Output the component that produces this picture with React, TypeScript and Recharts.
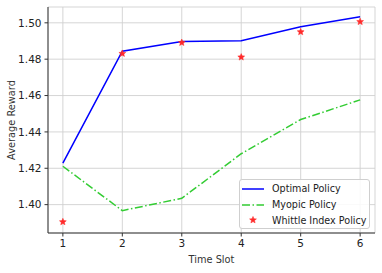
import React from 'react';
import { ComposedChart, Line, Scatter, XAxis, YAxis, CartesianGrid, Legend, Label } from 'recharts';

const timeSlots = [1, 2, 3, 4, 5, 6];
const optimalPolicy = [1.4228, 1.4844, 1.4897, 1.4901, 1.4978, 1.5033];
const myopicPolicy = [1.4211, 1.3967, 1.4035, 1.428, 1.4468, 1.4576];
const whittlePolicy = [1.3905, 1.4831, 1.4891, 1.4811, 1.495, 1.5006];
const yTicks = [1.4, 1.42, 1.44, 1.46, 1.48, 1.5];

const data = timeSlots.map((t, i) => ({
    t,
    optimal: optimalPolicy[i],
    myopic: myopicPolicy[i],
    whittle: whittlePolicy[i],
}));

const FONT = '"DejaVu Sans", sans-serif';
const BLUE = '#0000ff';
const GREEN = '#33cc33';
const RED = '#ff2a2a';

const starPoints = (cx: number, cy: number, r: number) => {
    const pts: string[] = [];
    for (let k = 0; k < 10; k++) {
        const rad = k % 2 === 0 ? r : r * 0.45;
        const a = -Math.PI / 2 + (k * Math.PI) / 5;
        pts.push(`${cx + rad * Math.cos(a)},${cy + rad * Math.sin(a)}`);
    }
    return pts.join(' ');
};

const Star = (props: any) => {
    const { cx, cy } = props;
    if (cx == null || cy == null) return null;
    return <polygon points={starPoints(cx, cy, 3.6)} fill={RED} stroke={RED} strokeWidth={0.5} />;
};

const LegendBox = () => {
    const row = (sample: React.ReactNode, text: string) => (
        <div style={{ display: 'flex', alignItems: 'center', height: 15.8 }}>
            <svg width={28} height={10} style={{ marginLeft: 2 }}>{sample}</svg>
            <span style={{ marginLeft: 2, fontSize: 9.6, color: '#222', whiteSpace: 'nowrap' }}>{text}</span>
        </div>
    );
    return (
        <div style={{
            fontFamily: FONT, border: '1px solid #cfcfcf', borderRadius: 3,
            background: 'rgba(255,255,255,0.85)', padding: '1px 0 0 0', width: 131, height: 50, boxSizing: 'border-box',
        }}>
            {row(<line x1={0} y1={5} x2={22} y2={5} stroke={BLUE} strokeWidth={1.5} />, 'Optimal Policy')}
            {row(<line x1={0} y1={5} x2={22} y2={5} stroke={GREEN} strokeWidth={1.5} strokeDasharray="8 2.5 1.5 2.5" />, 'Myopic Policy')}
            {row(<polygon points={starPoints(11, 5, 3.6)} fill={RED} stroke={RED} strokeWidth={0.5} />, 'Whittle Index Policy')}
        </div>
    );
};

export default function App() {
    return (
        <div style={{ position: 'absolute', left: 0, top: 0, width: 382, height: 273, background: '#fff', fontFamily: FONT }}>
            <ComposedChart width={382} height={273} data={data} margin={{ top: 7, right: 7, left: 0, bottom: 0 }}>
                <CartesianGrid stroke="#d0d0d0" strokeWidth={0.9} />
                <XAxis
                    dataKey="t" type="number" domain={[0.75, 6.25]} ticks={timeSlots} height={40}
                    tickSize={3.5} tickMargin={3} stroke="#333" axisLine={{ stroke: '#333' }}
                    tick={{ fill: '#222', fontSize: 10.5, fontFamily: FONT }} allowDataOverflow
                >
                    <Label value="Time Slot" position="insideBottom" offset={10} fill="#333" fontSize={9.8} fontFamily={FONT} />
                </XAxis>
                <YAxis
                    type="number" domain={[1.3844, 1.5087]} ticks={yTicks} width={48}
                    tickSize={3.5} tickMargin={3} stroke="#333" axisLine={{ stroke: '#333' }}
                    tickFormatter={(v: number) => v.toFixed(2)}
                    tick={{ fill: '#222', fontSize: 10.5, fontFamily: FONT }} allowDataOverflow
                >
                    <Label value="Average Reward" angle={-90} position="insideLeft" offset={12}
                        fill="#333" fontSize={9.8} fontFamily={FONT} style={{ textAnchor: 'middle' }} />
                </YAxis>
                <XAxis xAxisId="top" orientation="top" type="number" domain={[0.75, 6.25]} height={0}
                    tick={false} tickLine={false} axisLine={{ stroke: '#333' }} />
                <YAxis yAxisId="right" orientation="right" type="number" domain={[1.3844, 1.5087]} width={0}
                    tick={false} tickLine={false} axisLine={{ stroke: '#333' }} />
                <Line dataKey="optimal" stroke={BLUE} strokeWidth={1.5} dot={false} isAnimationActive={false} />
                <Line dataKey="myopic" stroke={GREEN} strokeWidth={1.5} strokeDasharray="8 2.5 1.5 2.5" dot={false} isAnimationActive={false} />
                <Scatter dataKey="whittle" fill={RED} shape={Star} isAnimationActive={false} />
                <Legend
                    layout="vertical" align="center" verticalAlign="middle"
                    wrapperStyle={{ left: 239, top: 179, width: 131, height: 50 }}
                    content={() => <LegendBox />}
                />
            </ComposedChart>
        </div>
    );
}
